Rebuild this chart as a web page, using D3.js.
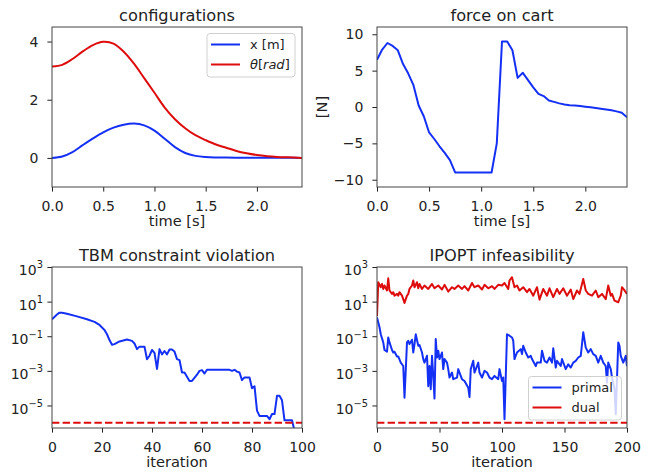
<!DOCTYPE html>
<html>
<head>
<meta charset="utf-8">
<script src="https://cdn.jsdelivr.net/npm/d3@7"></script>
<style>
  body { margin: 0; background: #fff; }
  svg text { font-family: "DejaVu Sans", sans-serif; }
</style>
</head>
<body>
<svg id="fig" width="651" height="474"></svg>
<script>
// configurations (cart position x and pole angle theta over time)
const confT     = [0, 0.1, 0.2, 0.3, 0.4, 0.5, 0.6, 0.7, 0.8, 0.9, 1.0, 1.1, 1.2, 1.3, 1.4, 1.5, 1.6, 1.7, 1.8, 1.9, 2.0, 2.1, 2.2, 2.3, 2.44]
const confX     = [0, 0.05, 0.2, 0.44, 0.67, 0.88, 1.04, 1.14, 1.18, 1.12, 0.94, 0.66, 0.37, 0.17, 0.07, 0.03, 0.015, 0.01, 0.008, 0.006, 0.005, 0.004, 0.003, 0.002, 0]
const confTheta = [3.14, 3.2, 3.4, 3.66, 3.88, 3.99, 3.93, 3.65, 3.24, 2.74, 2.24, 1.73, 1.33, 1.02, 0.78, 0.61, 0.46, 0.35, 0.24, 0.16, 0.1, 0.06, 0.035, 0.02, 0]

// force on cart
const forceT = [0, 0.05, 0.1, 0.15, 0.2, 0.25, 0.3, 0.35, 0.4, 0.45, 0.5, 0.55, 0.6, 0.65, 0.7, 0.75, 0.8, 0.85, 0.9, 0.95, 1.0, 1.05, 1.1,
  1.15, 1.2, 1.25, 1.3, 1.35, 1.4, 1.45, 1.5, 1.55, 1.6, 1.65, 1.7, 1.75, 1.8, 1.85, 1.9, 1.95, 2.0, 2.05, 2.1, 2.15, 2.2, 2.25, 2.3, 2.35, 2.4]
const forceN = [6.5, 7.9, 8.8, 8.4, 7.8, 5.9, 4.6, 3.0, 0.2, -1.3, -3.5, -4.4, -5.4, -6.3, -7.3, -9, -9, -9, -9, -9, -9, -9, -9,
  -5.0, 9.0, 9.0, 7.8, 4.0, 4.7, 3.7, 2.7, 1.8, 1.5, 0.9, 0.7, 0.5, 0.35, 0.25, 0.22, 0.15, 0.05, -0.05, -0.15, -0.25, -0.35, -0.45, -0.6, -0.8, -1.4]

// TBM constraint violation per iteration
const tbmIter = [0, 2, 3, 4, 6, 10, 14, 17, 19, 21, 22, 23, 24, 25, 27, 30, 32, 33, 34, 35, 37, 38, 39, 40, 41, 42, 43, 44, 45, 46, 47, 48, 49, 50,
  51, 52, 53, 55, 56, 58, 59, 60, 61, 62, 71, 72, 73, 74, 75, 76, 77, 79, 80, 81, 82, 83, 86, 87, 88, 89, 90, 91, 92, 93, 96, 97, 98]
const tbmViol = [0.95, 1.8, 2.3, 2.3, 2.0, 1.4, 0.95, 0.68, 0.45, 0.23, 0.13, 0.06, 0.032, 0.035, 0.05, 0.065, 0.054, 0.038, 0.018, 0.025, 0.025,
  0.0047, 0.0075, 0.016, 0.011, 0.0013, 0.018, 0.009, 0.014, 0.009, 0.017, 0.017, 0.013, 0.0048,
  0.0042, 0.0008, 0.0008, 0.00026, 0.00026, 0.0006, 0.001, 0.0011, 0.0007, 0.00115, 0.00115, 0.001, 0.00115, 0.0009, 0.0008, 0.00029, 0.00042, 0.00042,
  0.0001, 0.00013, 5e-6, 2.5e-6, 2.5e-6, 1.6e-6, 3.2e-6, 3.2e-6, 3.6e-5, 3.6e-5, 2e-5, 1.4e-6, 1.4e-6, 3.5e-7, 1e-7]

// IPOPT infeasibility per iteration
const primalIter = [0, 2, 3, 5, 6, 8, 9, 10, 12, 13, 14, 16, 17, 19, 21, 22, 24, 25, 26, 28, 29, 30, 31, 33, 34, 36, 37, 38, 40, 41, 42, 43, 44,
  45, 46, 47, 48, 49, 50, 52, 53, 54, 56, 57, 58, 60, 61, 64, 65, 66, 68, 70, 73, 74, 75, 77, 78, 80, 81, 82, 84, 86, 88, 90, 92, 94, 97, 98, 100, 101,
  102, 104, 106, 108, 109, 110, 112, 115, 116, 117, 119, 121, 123, 124, 127, 128, 131, 132, 134, 136, 138, 140, 141, 143, 144, 147, 148, 151, 153,
  155, 157, 159, 161, 163, 165, 167, 169, 171, 173, 175, 177, 179, 181, 183, 184, 185, 187, 188, 190, 191, 193, 194, 195, 197, 199, 200]
const primal = [1.2, 0.33, 0.13, 0.044, 0.016, 0.0128, 0.085, 0.044, 0.016, 0.0115, 0.0128, 0.0068, 0.0068, 0.003, 0.0019, 0.000028, 0.044, 0.055,
  0.035, 0.063, 0.0115, 0.035, 0.13, 0.028, 0.031, 0.0115, 0.0048, 0.003, 0.0074, 0.00013, 0.0019, 0.000087, 0.0074,
  0.00051, 0.000025, 0.069, 0.0059, 0.0145, 0.0048, 0.0115, 0.00126, 0.0048, 0.003, 0.00126, 0.00041, 0.0008, 0.00033, 0.00041, 0.00126, 0.0008,
  0.00033, 0.00026, 0.000107, 0.000031, 0.00126, 0.0038, 0.0008, 0.0019, 0.003, 0.0008, 0.00041, 0.001, 0.0008, 0.00041, 0.00033, 0.00051, 0.00033,
  0.00126, 0.00026, 0.00041, 0.0000016, 0.13, 0.107, 0.085, 0.055, 0.0048, 0.0115, 0.018, 0.0093, 0.028, 0.0115, 0.0059, 0.0074, 0.0048, 0.0019,
  0.003, 0.003, 0.0145, 0.0038, 0.003, 0.0059, 0.003, 0.02, 0.00155, 0.0038, 0.0019, 0.0048, 0.00126, 0.0024, 0.00155, 0.003, 0.0038, 0.0059,
  0.0074, 0.17, 0.022, 0.0115, 0.018, 0.0093, 0.0074, 0.003, 0.0074, 0.003, 0.0019, 0.00021, 0.003, 0.00126, 0.00041, 0.000087, 0.0000031,
  0.044, 0.028, 0.0074, 0.003, 0.0074, 0.0019]
const dualIter = [0, 1, 3, 4, 5, 6, 8, 9, 10, 12, 13, 14, 16, 17, 18, 20, 21, 22, 24, 25, 26, 28, 29, 30, 32, 33, 34, 36, 38, 41, 44, 46, 49, 52,
  54, 57, 60, 62, 65, 68, 70, 73, 76, 78, 81, 84, 86, 89, 92, 94, 97, 100, 102, 105, 106, 108, 110, 112, 114, 117, 120, 122, 125, 128, 130, 133,
  136, 138, 141, 144, 146, 149, 152, 155, 157, 160, 162, 165, 167, 169, 172, 175, 177, 180, 183, 185, 187, 188, 190, 193, 195, 196, 198, 200]
const dual = [1.5, 132, 68, 105, 54, 85, 44, 224, 44, 28, 35, 22, 28, 22, 35, 22, 14, 8.4, 22, 28, 54, 85, 166, 68, 132, 59, 105, 54, 85, 54, 105,
  59, 85, 50, 93, 38, 68, 54, 85, 54, 78, 44, 120, 68, 85, 50, 93, 59, 78, 54, 93, 85, 120, 54, 166, 257, 68, 85, 44, 68, 35, 54, 22, 68, 13, 54,
  22, 59, 18, 54, 28, 59, 22, 50, 14, 44, 28, 204, 44, 28, 22, 44, 18, 28, 14, 85, 22, 28, 11.4, 9.2, 22, 68, 44, 28]

const tolerance = 1e-6

const timeTicks = [0, 0.5, 1, 1.5, 2]
const confTicks = [0, 2, 4]
const forceTicks = [-10, -5, 0, 5, 10]
const logTicks = [1e-5, 1e-3, 1e-1, 1e1, 1e3]
const tbmTicks = [0, 20, 40, 60, 80, 100]
const ipoptTicks = [0, 50, 100, 150, 200]

const BLUE = '#1530f5', RED = '#dd0d0d'
const TICK_FS = 14, LABEL_FS = 14.6, TITLE_FS = 16.2, LEGEND_FS = 13

var svg = d3.select('#fig')
var clipN = 0

function panel(box, x, y, o){
  x.range([0, box.w]); y.range([box.h, 0])
  var g = svg.append('g').attr('transform', `translate(${box.x},${box.y})`)
  var id = 'clip' + clipN++
  g.append('clipPath').attr('id', id)
    .append('rect').attr('width', box.w).attr('height', box.h)
  var plot = g.append('g').attr('clip-path', `url(#${id})`)

  var xa = g.append('g').attr('transform', `translate(0,${box.h})`)
    .call(d3.axisBottom(x).tickValues(o.xTicks).tickFormat(o.xFormat).tickSize(4.6).tickSizeOuter(0))
  xa.attr('font-size', TICK_FS).attr('color', '#222')
  xa.select('.domain').remove()
  xa.selectAll('text').attr('y', 23.5).attr('dy', null)

  var ya = g.append('g')
    .call(d3.axisLeft(y).tickValues(o.yTicks).tickFormat(o.yFormat || null).tickSize(4.6).tickSizeOuter(0).tickPadding(o.yPad))
  ya.attr('font-size', TICK_FS).attr('color', '#222')
  ya.select('.domain').remove()

  if (o.log) {
    ya.selectAll('text').each(function(d){
      var t = d3.select(this).text('').attr('dy', '0.55em')
      var e = Math.round(Math.log10(d))
      t.append('tspan').text('10')
      t.append('tspan').attr('font-size', 9.8).attr('dy', -6.8).text(e < 0 ? '\u2212' + (-e) : e)
    })
  }

  g.append('text').attr('x', box.w/2).attr('y', -6.5)
    .attr('text-anchor', 'middle').attr('font-size', TITLE_FS).attr('fill', '#222')
    .text(o.title)
  g.append('text').attr('x', box.w/2).attr('y', box.h + 39)
    .attr('text-anchor', 'middle').attr('font-size', LABEL_FS).attr('fill', '#222')
    .text(o.xLabel)

  return {g, plot}
}

function drawLine(plot, xs, ys, x, y, color, curve){
  plot.append('path')
    .datum(xs.map((d, i) => [d, ys[i]]))
    .attr('d', d3.line().x(d => x(d[0])).y(d => y(d[1])).curve(curve || d3.curveLinear))
    .attr('fill', 'none').attr('stroke', color).attr('stroke-width', 2)
    .attr('stroke-linejoin', 'round')
}

function spine(g, box){
  g.append('rect').attr('width', box.w).attr('height', box.h)
    .attr('fill', 'none').attr('stroke', '#444').attr('stroke-width', 1)
}

function legend(g, lx, ly, w, h, rows){
  var lg = g.append('g').attr('transform', `translate(${lx},${ly})`)
  lg.append('rect').attr('width', w).attr('height', h).attr('rx', 3)
    .attr('fill', '#fff').attr('fill-opacity', 0.8).attr('stroke', '#d0d0d0')
  rows.forEach((r, i) => {
    var cy = 11 + i*20
    lg.append('line').attr('x1', 4).attr('x2', 33).attr('y1', cy).attr('y2', cy)
      .attr('stroke', r.color).attr('stroke-width', 2)
    var t = lg.append('text').attr('x', 43).attr('y', cy + 4.6).attr('font-size', LEGEND_FS).attr('fill', '#222')
    r.label(t)
  })
}

// --- configurations
var b1 = {x: 52, y: 27, w: 250, h: 160}
var x1 = d3.scaleLinear().domain([0, 2.44]), y1 = d3.scaleLinear().domain([-1, 4.5])
var p1 = panel(b1, x1, y1, {xTicks: timeTicks, xFormat: d3.format('.1f'), yTicks: confTicks, yFormat: d3.format('d'), yPad: 9,
  title: 'configurations', xLabel: 'time [s]'})
drawLine(p1.plot, confT, confX, x1, y1, BLUE, d3.curveCatmullRom)
drawLine(p1.plot, confT, confTheta, x1, y1, RED, d3.curveCatmullRom)
spine(p1.g, b1)
legend(p1.g, 155, 6.5, 88, 43.5, [
  {color: BLUE, label: t => t.text('x [m]')},
  {color: RED, label: t => {
    t.append('tspan').attr('font-style', 'italic').text('\u03b8')
    t.append('tspan').text('[')
    t.append('tspan').attr('font-style', 'italic').text('rad')
    t.append('tspan').text(']')
  }}
])

// --- force on cart
var b2 = {x: 377, y: 27, w: 250, h: 160}
var x2 = d3.scaleLinear().domain([0, 2.4]), y2 = d3.scaleLinear().domain([-11, 11])
var p2 = panel(b2, x2, y2, {xTicks: timeTicks, xFormat: d3.format('.1f'), yTicks: forceTicks, yFormat: d3.format('d'), yPad: 9,
  title: 'force on cart', xLabel: 'time [s]'})
drawLine(p2.plot, forceT, forceN, x2, y2, BLUE)
spine(p2.g, b2)
p2.g.append('text').attr('transform', `translate(-50,${b2.h/2}) rotate(-90)`)
  .attr('text-anchor', 'middle').attr('font-size', LABEL_FS).attr('fill', '#222').text('[N]')

// --- TBM constraint violation
var b3 = {x: 52, y: 267, w: 250, h: 161}
var x3 = d3.scaleLinear().domain([0, 100]), y3 = d3.scaleLog().domain([5e-7, 1e3])
var p3 = panel(b3, x3, y3, {xTicks: tbmTicks, xFormat: d3.format('d'), yTicks: logTicks, yPad: 4.5, log: true,
  title: 'TBM constraint violation', xLabel: 'iteration'})
drawLine(p3.plot, tbmIter, tbmViol, x3, y3, BLUE)
p3.plot.append('line').attr('x1', x3(0)).attr('x2', x3(100)).attr('y1', y3(tolerance)).attr('y2', y3(tolerance))
  .attr('stroke', RED).attr('stroke-width', 2).attr('stroke-dasharray', '7.4,3.2')
spine(p3.g, b3)

// --- IPOPT infeasibility
var b4 = {x: 377, y: 267, w: 250, h: 161}
var x4 = d3.scaleLinear().domain([0, 200]), y4 = d3.scaleLog().domain([5e-7, 1e3])
var p4 = panel(b4, x4, y4, {xTicks: ipoptTicks, xFormat: d3.format('d'), yTicks: logTicks, yPad: 4.5, log: true,
  title: 'IPOPT infeasibility', xLabel: 'iteration'})
drawLine(p4.plot, primalIter, primal, x4, y4, BLUE)
drawLine(p4.plot, dualIter, dual, x4, y4, RED)
p4.plot.append('line').attr('x1', x4(0)).attr('x2', x4(200)).attr('y1', y4(tolerance)).attr('y2', y4(tolerance))
  .attr('stroke', RED).attr('stroke-width', 2).attr('stroke-dasharray', '7.4,3.2')
spine(p4.g, b4)
legend(p4.g, 151.5, 109.5, 93, 43.5, [
  {color: BLUE, label: t => t.text('primal')},
  {color: RED, label: t => t.text('dual')}
])
</script>
</body>
</html>
